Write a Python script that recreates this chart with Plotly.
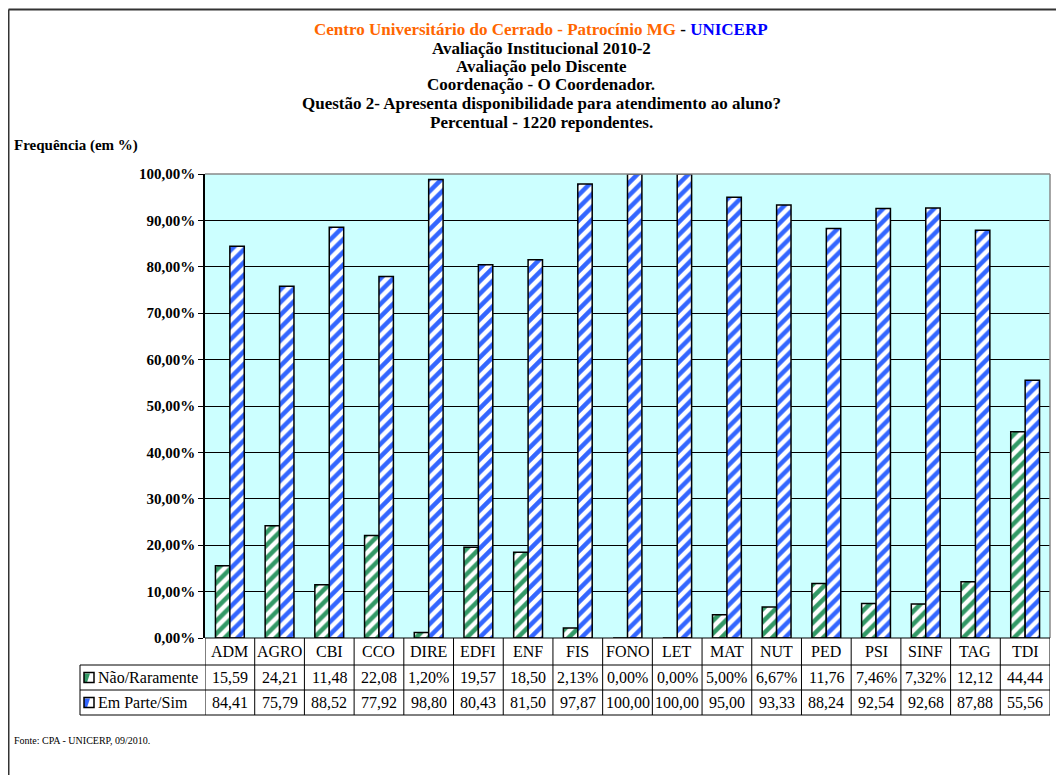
import plotly.graph_objects as go

categories = ["ADM", "AGRO", "CBI", "CCO", "DIRE", "EDFI", "ENF", "FIS", "FONO",
              "LET", "MAT", "NUT", "PED", "PSI", "SINF", "TAG", "TDI"]
nao_raramente = [15.59, 24.21, 11.48, 22.08, 1.20, 19.57, 18.50, 2.13, 0.00,
                 0.00, 5.00, 6.67, 11.76, 7.46, 7.32, 12.12, 44.44]
em_parte_sim = [84.41, 75.79, 88.52, 77.92, 98.80, 80.43, 81.50, 97.87, 100.00,
                100.00, 95.00, 93.33, 88.24, 92.54, 92.68, 87.88, 55.56]
series_names = ["Não/Raramente", "Em Parte/Sim"]
y_ticks = [i / 10 for i in range(11)]

GREEN = "#339966"
BLUE = "#3366FF"
FONT = "Liberation Serif"

OFF = 8                      # page body margin
W, H = 1064 - OFF, 775 - OFF
L, R, T, B = 205, 1050, 174, 638  # plot area box in page pixels


def px_x(p):
    return (p - L) / (R - L)


def px_y(p):
    return (B - p) / (B - T)


def fmt(v):
    s = f"{v:.2f}".replace(".", ",")
    return s + ("%" if v < 10 else "")


fig = go.Figure()
for name, vals, col in [(series_names[0], nao_raramente, GREEN),
                        (series_names[1], em_parte_sim, BLUE)]:
    fig.add_trace(go.Bar(
        x=categories, y=[v / 100 for v in vals], name=name,
        marker=dict(color="white", line=dict(color="black", width=1.5),
                    pattern=dict(shape="/", fgcolor=col, bgcolor="white", fgopacity=1,
                                 size=9, solidity=0.5, fillmode="replace")),
        hoverinfo="x+y",
    ))

shapes = []
annotations = []
TXT = dict(family=FONT, size=16, color="black")

# Plot-area grey border on top and right
shapes.append(dict(type="line", xref="paper", yref="paper", x0=0, x1=1, y0=1, y1=1,
                   line=dict(color="#888888", width=1.5)))
shapes.append(dict(type="line", xref="paper", yref="paper", x0=1, x1=1, y0=0, y1=1,
                   line=dict(color="#888888", width=1.5)))

# Data table below the plot
rows_px = [638, 665, 690, 715]
n = len(categories)
shapes.append(dict(type="line", xref="paper", yref="paper", x0=0, x1=1,
                   y0=px_y(rows_px[0]), y1=px_y(rows_px[0]), line=dict(color="black", width=1)))
for rp in rows_px[1:]:
    shapes.append(dict(type="line", xref="paper", yref="paper", x0=px_x(80), x1=1,
                       y0=px_y(rp), y1=px_y(rp), line=dict(color="black", width=1)))
for i in range(n + 1):
    shapes.append(dict(type="line", xref="x", yref="paper", x0=i - 0.5, x1=i - 0.5,
                       y0=px_y(rows_px[0]), y1=px_y(rows_px[3]),
                       line=dict(color="black", width=1)))
shapes.append(dict(type="line", xref="paper", yref="paper", x0=px_x(80), x1=px_x(80),
                   y0=px_y(rows_px[1]), y1=px_y(rows_px[3]), line=dict(color="black", width=1)))

for i, c in enumerate(categories):
    for r, txt in enumerate([c, fmt(nao_raramente[i]), fmt(em_parte_sim[i])]):
        annotations.append(dict(x=c, xref="x", yref="paper",
                                y=px_y((rows_px[r] + rows_px[r + 1]) / 2),
                                xanchor="center", yanchor="middle",
                                text=txt, showarrow=False, font=TXT))

# legend keys inside the table
for k, (name, col) in enumerate([(series_names[0], GREEN), (series_names[1], BLUE)]):
    cy = (rows_px[k + 1] + rows_px[k + 2]) / 2
    x0, x1 = 84, 94
    y0, y1 = cy - 5, cy + 5
    shapes.append(dict(type="path", xref="paper", yref="paper",
                       path=(f"M {px_x(x0)},{px_y(y1)} L {px_x(x0)},{px_y(y0 + 1)} "
                             f"L {px_x(x1 - 4)},{px_y(y0 + 1)} L {px_x(x0 + 3)},{px_y(y1)} Z"),
                       fillcolor=col, line=dict(width=0)))
    shapes.append(dict(type="rect", xref="paper", yref="paper",
                       x0=px_x(x0), x1=px_x(x1), y0=px_y(y1), y1=px_y(y0),
                       line=dict(color="black", width=1.5)))
    annotations.append(dict(x=px_x(96), xref="paper", yref="paper", y=px_y(cy),
                            xanchor="left", yanchor="middle", text=name, showarrow=False,
                            font=TXT))

# Outer frame (top and left edges visible)
shapes.append(dict(type="line", xref="paper", yref="paper", x0=px_x(8.5), x1=px_x(1080),
                   y0=px_y(9.5), y1=px_y(9.5), line=dict(color="#333333", width=2)))
shapes.append(dict(type="line", xref="paper", yref="paper", x0=px_x(8.5), x1=px_x(8.5),
                   y0=px_y(9.5), y1=px_y(790), line=dict(color="#333333", width=2)))

# Title lines
title_lines = [
    ("<span style='color:#FF6600'>Centro Universitário do Cerrado - Patrocínio MG</span>"
     " - <span style='color:#0000FF'>UNICERP</span>", 29),
    ("Avaliação Institucional 2010-2", 48),
    ("Avaliação pelo Discente", 66.5),
    ("Coordenação - O Coordenador.", 85),
    ("Questão 2- Apresenta disponibilidade para atendimento ao aluno?", 104),
    ("Percentual - 1220 repondentes.", 122.5),
]
for txt, yp in title_lines:
    annotations.append(dict(x=px_x(541), y=px_y(yp), xref="paper", yref="paper",
                            xanchor="center", yanchor="middle", text=txt, showarrow=False,
                            font=dict(family=FONT, size=17, color="black", weight="bold")))

annotations.append(dict(x=px_x(12), y=px_y(145), xref="paper", yref="paper",
                        xanchor="left", yanchor="middle", text="Frequência (em %)",
                        showarrow=False,
                        font=dict(family=FONT, size=15, color="black", weight="bold")))

annotations.append(dict(x=px_x(12), y=px_y(740), xref="paper", yref="paper",
                        xanchor="left", yanchor="middle", text="Fonte: CPA - UNICERP, 09/2010.",
                        showarrow=False, font=dict(family=FONT, size=10, color="black")))

fig.update_layout(
    width=W, height=H,
    margin=dict(l=L - OFF, r=(W + OFF) - R, t=T - OFF, b=(H + OFF) - B, pad=0),
    paper_bgcolor="white", plot_bgcolor="#CCFFFF",
    separators=",.",
    barmode="group", bargap=0.42, bargroupgap=0,
    showlegend=False,
    shapes=shapes, annotations=annotations,
    font=dict(family=FONT, color="black"),
)
fig.update_xaxes(showticklabels=False, ticks="", showgrid=False, showline=False,
                 range=[-0.5, n - 0.5])
fig.update_yaxes(range=[0, 1], tickvals=y_ticks, tickformat=".2%",
                 showgrid=True, gridcolor="black", gridwidth=1,
                 showline=True, linecolor="black", linewidth=1.5,
                 ticks="outside", ticklen=5, tickcolor="black",
                 tickfont=dict(family=FONT, size=15, color="black", weight="bold"),
                 zeroline=False)

fig.write_html("out.html")
